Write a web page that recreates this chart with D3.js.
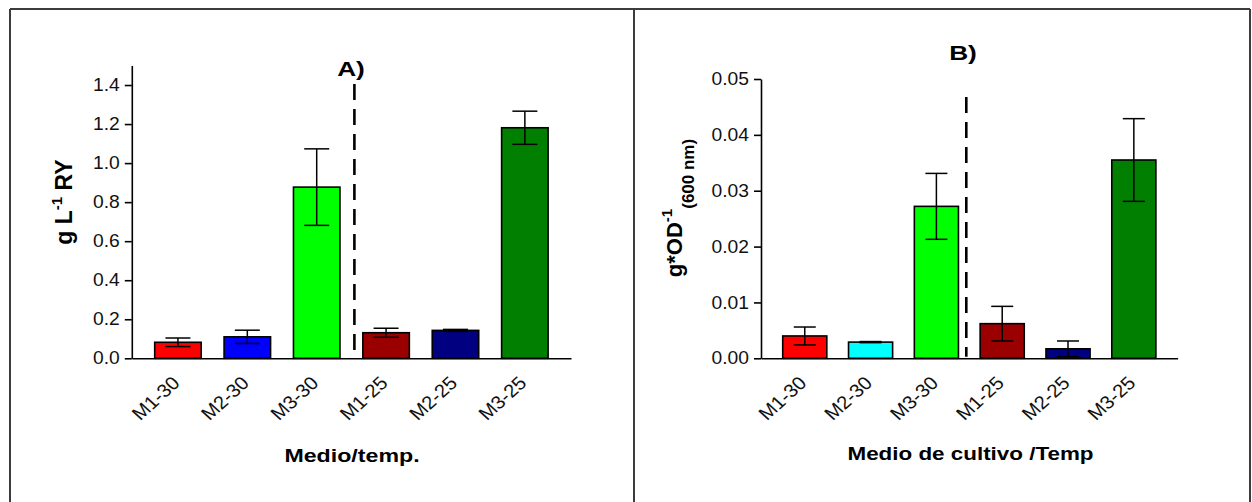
<!DOCTYPE html>
<html><head><meta charset="utf-8">
<script src="https://cdn.jsdelivr.net/npm/d3@7"></script>
<style>
body{margin:0;background:#fff}
svg{display:block}
text{font-family:"Liberation Sans",Arial,Helvetica,sans-serif}
</style>
</head><body>
<svg id="c" width="1252" height="502"></svg>
<script>
// ---- data ----
const categories = ["M1-30","M2-30","M3-30","M1-25","M2-25","M3-25"];
const valuesA = [0.082, 0.110, 0.877, 0.131, 0.143, 1.181];
const errorsA = [0.022, 0.034, 0.196, 0.023, 0.005, 0.085];
const valuesB = [0.0040, 0.0029, 0.0272, 0.0062, 0.0017, 0.0355];
const errorsB = [0.0016, 0.0001, 0.0059, 0.0031, 0.0014, 0.0074];
const ticksA = [0, 0.2, 0.4, 0.6, 0.8, 1.0, 1.2, 1.4];
const ticksB = [0, 0.01, 0.02, 0.03, 0.04, 0.05];
const colorsA = ["#ff0000","#0000ff","#00ff00","#9a0000","#000080","#007f00"];
const colorsB = ["#ff0000","#00ffff","#00ff00","#9a0000","#000080","#007f00"];

const svg = d3.select("#c");
const TS = 1.1; // horizontal text stretch
const FS = 17.5;
const FSX = 18.5;

// frame
const fr = svg.append("g").attr("stroke","#3c3c3c").attr("stroke-width",2).attr("fill","none");
fr.append("line").attr("x1",10).attr("y1",9).attr("x2",1250).attr("y2",9);
fr.append("line").attr("x1",10).attr("y1",9).attr("x2",10).attr("y2",502);
fr.append("line").attr("x1",634).attr("y1",9).attr("x2",634).attr("y2",502);
fr.append("line").attr("x1",1250).attr("y1",9).attr("x2",1250).attr("y2",502);

function stretchedText(parent, x, y, rot, s, txt) {
  return parent.append("text")
    .attr("transform", `translate(${x},${y}) scale(${s},1) rotate(${rot})`)
    .text(txt);
}

function panel(cfg) {
  const g = svg.append("g");
  const x = d3.scaleBand().domain(categories).range([cfg.x0, cfg.x1])
    .paddingInner(0.33).paddingOuter(0.33);
  const y = d3.scaleLinear().domain([0, cfg.yMax]).range([cfg.yB, cfg.yT]);
  const bw = x.bandwidth();
  const cx = c => x(c) + bw / 2;

  // bars
  g.selectAll("rect.bar").data(cfg.values).join("rect").attr("class","bar")
    .attr("x", (d,i) => x(categories[i]))
    .attr("y", d => y(d))
    .attr("width", bw)
    .attr("height", d => y(0) - y(d))
    .attr("fill", (d,i) => cfg.colors[i])
    .attr("stroke", "#000").attr("stroke-width", 1.6);

  // error bars
  const eb = g.append("g").attr("stroke","#000").attr("stroke-width",1.5);
  cfg.values.forEach((v,i) => {
    const e = cfg.errors[i], c = cx(categories[i]);
    const yt = y(v + e), yb = y(Math.max(0, v - e));
    eb.append("line").attr("x1",c).attr("x2",c).attr("y1",yt).attr("y2",yb);
    eb.append("line").attr("x1",c - cfg.cap/2).attr("x2",c + cfg.cap/2).attr("y1",yt).attr("y2",yt);
    eb.append("line").attr("x1",c - cfg.cap/2).attr("x2",c + cfg.cap/2).attr("y1",yb).attr("y2",yb);
  });

  // dashed separator
  const xd = (x(categories[2]) + bw + x(categories[3])) / 2 + cfg.dashShift;
  g.append("line").attr("x1",xd).attr("x2",xd)
    .attr("y1", y(cfg.dashTop)).attr("y2", y(0) - 1.5)
    .attr("stroke","#000").attr("stroke-width",2.6).attr("stroke-dasharray","16,9");

  // y axis
  const ay = g.append("g").attr("transform",`translate(${cfg.x0},0)`)
    .call(d3.axisLeft(y).tickValues(cfg.ticks).tickFormat(cfg.fmt)
      .tickSize(7).tickPadding(5).tickSizeOuter(0));
  ay.selectAll("path,line").attr("stroke","#000").attr("stroke-width",1.6);
  ay.selectAll("text").each(function(){
    const t = d3.select(this);
    const xx = +t.attr("x");
    t.attr("x",0).attr("transform",`translate(${xx},0) scale(${TS},1)`);
  }).attr("font-size",FS).attr("fill","#111")
    .attr("font-family",'"Liberation Sans",Arial,sans-serif');

  // x axis
  const ax = g.append("g").attr("transform",`translate(0,${cfg.yB})`)
    .call(d3.axisBottom(x).tickSize(0).tickFormat(""));
  ax.select("path").attr("stroke","#000").attr("stroke-width",1.6);
  ax.selectAll(".tick").remove();

  const lab = g.append("g").attr("font-size",FSX).attr("fill","#111").attr("text-anchor","end");
  categories.forEach(c => {
    stretchedText(lab, cx(c) + 3, cfg.yB + 26, -45, TS, c);
  });

  // panel title
  stretchedText(g, cfg.titleX, cfg.titleY, 0, 1.25, cfg.title)
    .attr("font-size",21).attr("font-weight","bold").attr("text-anchor","middle");

  // x axis title
  stretchedText(g, cfg.xtX, cfg.xtY, 0, cfg.xtS, cfg.xTitle)
    .attr("font-size",19).attr("font-weight","bold").attr("text-anchor","middle");

  return {g, x, y};
}

const pA = panel({
  x0: 131.8, x1: 571, yB: 358.3, yT: 65.5, yMax: 1.5,
  values: valuesA, errors: errorsA, colors: colorsA, ticks: ticksA,
  fmt: d3.format(".1f"), cap: 25, dashTop: 1.405, dashShift: 3,
  title: "A)", titleX: 351, titleY: 76,
  xTitle: "Medio/temp.", xtX: 352, xtY: 462, xtS: 1.22
});
const pB = panel({
  x0: 761, x1: 1177.6, yB: 358.3, yT: 79, yMax: 0.05,
  values: valuesB, errors: errorsB, colors: colorsB, ticks: ticksB,
  fmt: d3.format(".2f"), cap: 22, dashTop: 0.0468, dashShift: -3,
  title: "B)", titleX: 963, titleY: 60,
  xTitle: "Medio de cultivo /Temp", xtX: 970.5, xtY: 460, xtS: 1.18
});

// y axis titles
const ytA = svg.append("text")
  .attr("transform","translate(72,202) rotate(-90)")
  .attr("text-anchor","middle").attr("font-weight","bold").attr("font-size",23);
ytA.append("tspan").text("g L");
ytA.append("tspan").attr("font-size",15).attr("dy",-10).text("-1");
ytA.append("tspan").attr("dy",10).text(" RY");

const ytB = svg.append("text")
  .attr("transform","translate(682,208) rotate(-90)")
  .attr("text-anchor","middle").attr("font-weight","bold").attr("font-size",22);
ytB.append("tspan").text("g*OD");
ytB.append("tspan").attr("font-size",15).attr("dy",-10).text("-1");
ytB.append("tspan").attr("font-size",17).attr("dy",22).text("(600 nm)");
</script>
</body></html>
